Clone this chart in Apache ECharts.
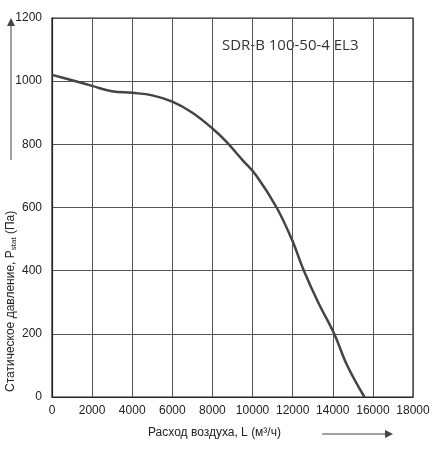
<!DOCTYPE html>
<html><head><meta charset="utf-8">
<script src="https://cdn.jsdelivr.net/npm/echarts@6/dist/echarts.min.js"></script>
<style>html,body{margin:0;padding:0;background:#fff}#c{width:443px;height:450px}</style>
</head><body><div id="c"></div>
<script>
const flow = [0, 1000, 2000, 3000, 4000, 5000, 6000, 7000, 8000, 8700, 9500, 10200, 11200, 11950, 12560, 13270, 14070, 14720, 15580];
const pressure = [1020, 1003, 985, 968, 963, 955, 935, 900, 850, 808, 750, 700, 600, 500, 400, 300, 200, 100, 0];
const xTicks = [0, 2000, 4000, 6000, 8000, 10000, 12000, 14000, 16000, 18000];
const yTicks = [0, 200, 400, 600, 800, 1000, 1200];

const chart = echarts.init(document.getElementById('c'));
const font = 'Liberation Sans';
chart.setOption({
    animation: false,
    grid: { left: 52, right: 30, top: 18, bottom: 53 },
    xAxis: {
        type: 'value', min: 0, max: 18000, interval: 2000,
        axisLine: { lineStyle: { color: '#222', width: 1.2 } },
        axisTick: { show: false },
        axisLabel: { color: '#222', fontSize: 12, fontFamily: font, margin: 8, formatter: v => String(v) },
        splitLine: { lineStyle: { color: '#555', width: 1 } }
    },
    yAxis: {
        type: 'value', min: 0, max: 1200, interval: 200,
        axisLine: { show: true, lineStyle: { color: '#222', width: 1.2 } },
        axisTick: { show: false },
        axisLabel: { color: '#222', fontSize: 12, fontFamily: font, margin: 10, formatter: v => String(v) },
        splitLine: { lineStyle: { color: '#555', width: 1 } }
    },
    graphic: [
        { type: 'rect', shape: { x: 52, y: 18, width: 361, height: 379 }, style: { fill: 'none', stroke: '#222', lineWidth: 1.2 }, silent: true },
        { type: 'text', left: 222, top: 38, style: { text: 'SDR-B 100-50-4 EL3', fontSize: 15, fontFamily: 'Open Sans', fill: '#333' } },
        { type: 'text', left: 148, top: 427, style: { text: 'Расход воздуха, L (м³/ч)', fontSize: 12, fontFamily: font, fill: '#222' } },
        { type: 'line', shape: { x1: 322, y1: 434, x2: 385, y2: 434 }, style: { stroke: '#444', lineWidth: 1 } },
        { type: 'polygon', shape: { points: [[385, 430], [393, 434], [385, 438]] }, style: { fill: '#444' } },
        { type: 'text', x: 4, y: 392, rotation: Math.PI / 2, style: {
            text: '{a|Статическое давление, P}{b|stat}{a| (Па)}',
            rich: { a: { fontSize: 12, fontFamily: font, fill: '#222' }, b: { fontSize: 8, fontFamily: font, fill: '#222', verticalAlign: 'bottom', padding: [6, 0, 0, 0] } }
        } },
        { type: 'line', shape: { x1: 11, y1: 160, x2: 11, y2: 26 }, style: { stroke: '#444', lineWidth: 1 } },
        { type: 'polygon', shape: { points: [[7, 26], [11, 18], [15, 26]] }, style: { fill: '#444' } }
    ],
    series: [{
        type: 'line', data: flow.map((f, i) => [f, pressure[i]]),
        smooth: 0.4, showSymbol: false,
        lineStyle: { color: '#444', width: 2.5 }
    }]
});
</script></body></html>
